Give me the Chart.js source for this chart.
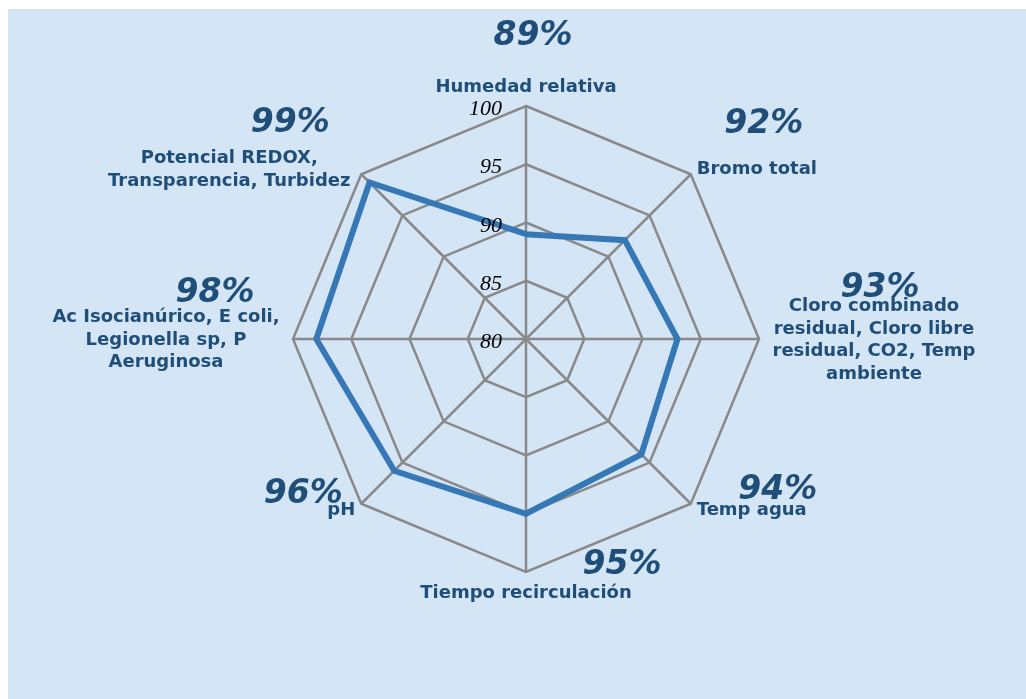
<!DOCTYPE html>
<html>
<head>
<meta charset="utf-8">
<script src="https://cdn.jsdelivr.net/npm/chart.js@4/dist/chart.umd.min.js"></script>
<style>
  html, body { margin: 0; padding: 0; background: #ffffff; }
  #bg { position: absolute; left: 8px; top: 9px; width: 1018px; height: 690px; background: rgb(212,229,246); }
  #c { position: absolute; left: 0; top: 0; }
</style>
</head>
<body>
<div id="bg"></div>
<canvas id="c" width="1026" height="699"></canvas>
<script>
// ---- data ----
const CATEGORIES = [
  ["Humedad relativa"],
  ["Bromo total"],
  ["Cloro combinado", "residual, Cloro libre", "residual, CO2, Temp", "ambiente"],
  ["Temp agua"],
  ["Tiempo recirculación"],
  ["pH"],
  ["Ac Isocianúrico, E coli,", "Legionella sp, P", "Aeruginosa"],
  ["Potencial REDOX,", "Transparencia, Turbidez"]
];
const VALUES = [89, 92, 93, 94, 95, 96, 98, 99];
const TICKS = [80, 85, 90, 95, 100];

// ---- layout / style ----
const LABEL_COLOR = '#1F4E79';
const GRID_COLOR = '#898989';
const LINE_COLOR = '#3677B6';
const POINT_LABEL_LAYOUT = [
  { align: 'center', dx: 0, dy: -14 },
  { align: 'left', dx: 6, dy: 0 },
  { align: 'center', dx: 115, dy: -28 },
  { align: 'left', dx: 6, dy: 11 },
  { align: 'center', dx: 0, dy: 26 },
  { align: 'right', dx: -6, dy: 11 },
  { align: 'center', dx: -127, dy: -17 },
  { align: 'center', dx: -132, dy: -11 }
];
const PCT_LAYOUT = [
  { dx: 7, dy: -61 },
  { dx: 73, dy: -41 },
  { dx: 121, dy: -42 },
  { dx: 87, dy: -5 },
  { dx: 96, dy: 2 },
  { dx: -58, dy: -1 },
  { dx: -78, dy: -37 },
  { dx: -71, dy: -42 }
];

const labelPlugin = {
  id: 'customLabels',
  afterDraw(chart) {
    const s = chart.scales.r, ctx = chart.ctx;
    ctx.save();
    // tick labels (drawn above the series, as in the reference)
    ctx.font = 'italic 22px "Liberation Serif"';
    ctx.fillStyle = '#000000';
    ctx.textAlign = 'right';
    ctx.textBaseline = 'alphabetic';
    TICKS.forEach(v => {
      const d = s.getDistanceFromCenterForValue(v);
      ctx.fillText(String(v), s.xCenter - 24, s.yCenter - d + 9);
    });
    // category labels
    ctx.fillStyle = LABEL_COLOR;
    CATEGORIES.forEach((lines, i) => {
      const p = s.getPointPosition(i, s.drawingArea);
      const L = POINT_LABEL_LAYOUT[i];
      ctx.font = 'bold 18px "DejaVu Sans"';
      ctx.textAlign = L.align;
      lines.forEach((t, k) => ctx.fillText(t, p.x + L.dx, p.y + L.dy + k * 22.5));
    });
    // percentage labels
    ctx.font = 'italic bold 33px "DejaVu Sans"';
    ctx.textAlign = 'center';
    VALUES.forEach((v, i) => {
      const p = s.getPointPosition(i, s.drawingArea);
      const L = PCT_LAYOUT[i];
      ctx.fillText(v + '%', p.x + L.dx, p.y + L.dy);
    });
    ctx.restore();
  }
};

new Chart(document.getElementById('c'), {
  type: 'radar',
  data: {
    labels: CATEGORIES,
    datasets: [{
      data: VALUES,
      borderColor: LINE_COLOR,
      borderWidth: 6,
      fill: false,
      pointRadius: 0,
      pointHoverRadius: 0,
      tension: 0
    }]
  },
  options: {
    responsive: false,
    devicePixelRatio: 1,
    animation: false,
    layout: { padding: { left: 293, right: 267, top: 106, bottom: 127 } },
    plugins: { legend: { display: false }, tooltip: { enabled: false } },
    scales: {
      r: {
        min: 80,
        max: 100,
        ticks: { display: false, stepSize: 5 },
        grid: { color: GRID_COLOR, lineWidth: 2.5 },
        angleLines: { color: GRID_COLOR, lineWidth: 2.5 },
        pointLabels: { display: false }
      }
    }
  },
  plugins: [labelPlugin]
});
</script>
</body>
</html>
